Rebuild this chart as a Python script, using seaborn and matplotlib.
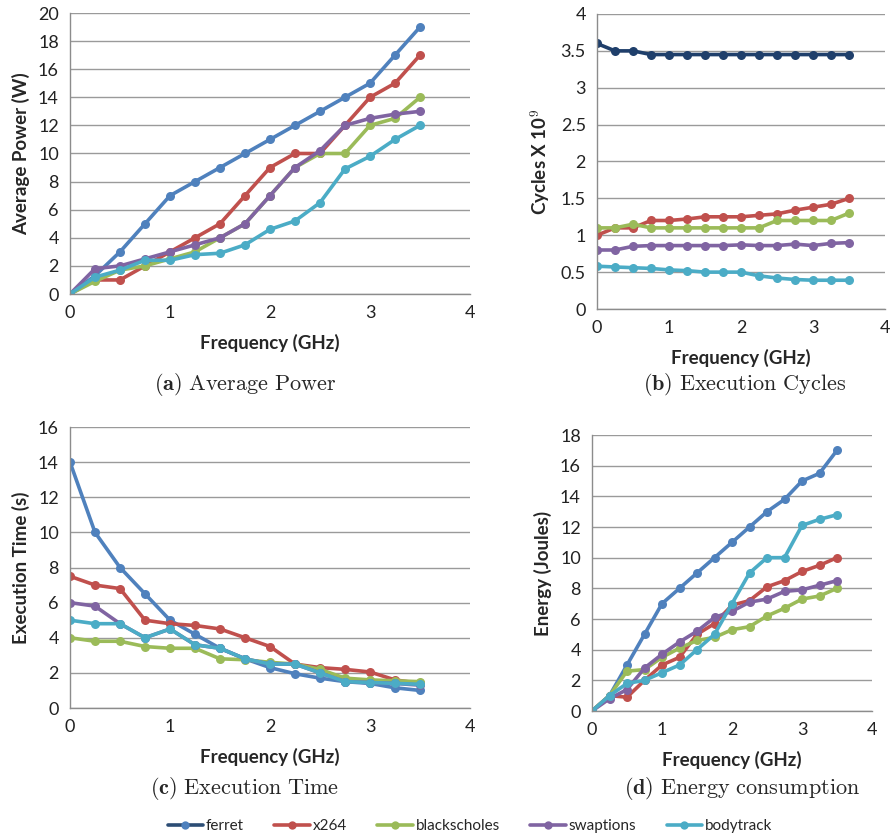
import numpy as np
import pandas as pd
import matplotlib
matplotlib.use("Agg")
import matplotlib.pyplot as plt
from matplotlib.lines import Line2D
import seaborn as sns

freq = [0, 0.25, 0.5, 0.75, 1.0, 1.25, 1.5, 1.75, 2.0, 2.25, 2.5, 2.75, 3.0, 3.25, 3.5]
benchmarks = ["ferret", "x264", "blackscholes", "swaptions", "bodytrack"]
colors = ["#4F81BD", "#C0504D", "#9BBB59", "#8064A2", "#4BACC6"]

# (a) Average power (W)
power_ferret = [0, 1.3, 3, 5, 7, 8, 9, 10, 11, 12, 13, 14, 15, 17, 19]
power_x264 = [0, 1, 1, 2, 3, 4, 5, 7, 9, 10, 10, 12, 14, 15, 17]
power_blackscholes = [0, 0.9, 1.7, 2.0, 2.5, 3.0, 4.0, 5.0, 7.0, 9.0, 10.0, 10.0, 12.0, 12.5, 14.0]
power_swaptions = [0, 1.8, 2.0, 2.5, 3.0, 3.5, 4.0, 5.0, 7.0, 9.0, 10.2, 12.0, 12.5, 12.8, 13.0]
power_bodytrack = [0, 1.2, 1.7, 2.4, 2.4, 2.8, 2.9, 3.5, 4.6, 5.2, 6.5, 8.9, 9.8, 11.0, 12.0]

# (b) Execution cycles (x10^9)
cyc_ferret = [3.6, 3.5, 3.5, 3.45, 3.45, 3.45, 3.45, 3.45, 3.45, 3.45, 3.45, 3.45, 3.45, 3.45, 3.45]
cyc_x264 = [1.0, 1.1, 1.1, 1.2, 1.2, 1.22, 1.25, 1.25, 1.25, 1.27, 1.29, 1.34, 1.38, 1.42, 1.5]
cyc_blackscholes = [1.1, 1.1, 1.15, 1.1, 1.1, 1.1, 1.1, 1.1, 1.1, 1.1, 1.2, 1.2, 1.2, 1.2, 1.3]
cyc_swaptions = [0.8, 0.8, 0.85, 0.86, 0.86, 0.86, 0.86, 0.86, 0.87, 0.86, 0.86, 0.88, 0.86, 0.89, 0.9]
cyc_bodytrack = [0.58, 0.57, 0.56, 0.55, 0.53, 0.52, 0.5, 0.5, 0.5, 0.45, 0.42, 0.4, 0.39, 0.39, 0.39]

# (c) Execution time (s)
time_ferret = [14, 10, 8, 6.5, 5, 4.2, 3.4, 2.8, 2.3, 1.95, 1.7, 1.5, 1.4, 1.15, 1.0]
time_x264 = [7.5, 7, 6.8, 5, 4.8, 4.7, 4.5, 4, 3.5, 2.5, 2.3, 2.2, 2.05, 1.6, 1.4]
time_blackscholes = [4, 3.8, 3.8, 3.5, 3.4, 3.4, 2.8, 2.75, 2.6, 2.5, 2.2, 1.7, 1.6, 1.55, 1.5]
time_swaptions = [6, 5.8, 4.8, 4, 4.5, 3.6, 3.4, 2.8, 2.5, 2.5, 2.0, 1.5, 1.45, 1.4, 1.3]
time_bodytrack = [5, 4.8, 4.8, 4, 4.5, 3.6, 3.4, 2.8, 2.5, 2.5, 2.0, 1.5, 1.45, 1.4, 1.35]

# (d) Energy (Joules)
energy_ferret = [0, 1, 3, 5, 7, 8, 9, 10, 11, 12, 13, 13.8, 15, 15.5, 17]
energy_x264 = [0, 1, 0.9, 2, 3, 3.5, 5, 5.7, 6.9, 7.2, 8.1, 8.5, 9.1, 9.5, 10]
energy_blackscholes = [0, 1, 2.6, 2.7, 3.5, 4.1, 4.6, 4.8, 5.3, 5.5, 6.2, 6.7, 7.3, 7.5, 8]
energy_swaptions = [0, 0.8, 1.4, 2.8, 3.7, 4.5, 5.2, 6.1, 6.5, 7.1, 7.3, 7.8, 7.9, 8.2, 8.5]
energy_bodytrack = [0, 1, 1.8, 2, 2.5, 3, 4, 5, 7, 9, 10, 10, 12.1, 12.5, 12.8]

sns.set_style("white")
plt.rcParams["font.family"] = ["Lato", "DejaVu Sans"]
plt.rcParams["mathtext.fontset"] = "cm"

W, H = 892, 838
fig = plt.figure(figsize=(W / 100, H / 100), dpi=100)


def make_df(series):
    rows = []
    for name, vals in zip(benchmarks, series):
        for f, v in zip(freq, vals):
            rows.append((name, f, v))
    return pd.DataFrame(rows, columns=["bench", "freq", "val"])


def add_ax(left, right, top, bottom):
    return fig.add_axes([left / W, 1 - bottom / H, (right - left) / W, (bottom - top) / H])


def panel(ax, series, ylim, ystep, ylabel, yfmt=None):
    df = make_df(series)
    sns.lineplot(data=df, x="freq", y="val", hue="bench", hue_order=benchmarks,
                 palette=colors, marker="o", markersize=6.5, markeredgewidth=0,
                 linewidth=2.6, legend=False, ax=ax)
    ax.set_xlim(0, 4)
    ax.set_ylim(0, ylim)
    ax.set_xticks([0, 1, 2, 3, 4])
    yt = np.arange(0, ylim + ystep / 2, ystep)
    ax.set_yticks(yt)
    if yfmt:
        ax.set_yticklabels([yfmt(v) for v in yt])
    ax.yaxis.grid(True, color="#9a9a9a", linewidth=1.0)
    ax.set_axisbelow(True)
    for s in ["top", "right"]:
        ax.spines[s].set_visible(False)
    for s in ["left", "bottom"]:
        ax.spines[s].set_color("#8c8c8c")
        ax.spines[s].set_linewidth(1.0)
    ax.tick_params(axis="both", length=0, labelsize=13, colors="#222222", pad=8)
    ax.set_xlabel("Frequency (GHz)", fontsize=13.5, fontweight="bold", labelpad=9)
    ax.set_ylabel(ylabel, fontsize=13.5, fontweight="bold", labelpad=6)


ax_a = add_ax(70, 470, 13, 294)
panel(ax_a, [power_ferret, power_x264, power_blackscholes, power_swaptions, power_bodytrack],
      20, 2, "Average Power (W)")

ax_b = add_ax(597, 885, 14, 309)
panel(ax_b, [cyc_ferret, cyc_x264, cyc_blackscholes, cyc_swaptions, cyc_bodytrack],
      4, 0.5, r"Cycles X 10$^{\mathbf{9}}$", yfmt=lambda v: ("%g" % v))
ax_b.lines[0].set_color("#1F3F6B")

ax_c = add_ax(70, 470, 427, 708)
panel(ax_c, [time_ferret, time_x264, time_blackscholes, time_swaptions, time_bodytrack],
      16, 2, "Execution Time (s)")

ax_d = add_ax(592, 872, 435, 711)
panel(ax_d, [energy_ferret, energy_x264, energy_blackscholes, energy_swaptions, energy_bodytrack],
      18, 2, "Energy (Joules)")

cap_kw = dict(ha="center", va="center", fontsize=16)
fig.text(245 / W, 1 - 385 / H, r"$\mathbf{(a)}\ \mathrm{Average\ Power}$", **cap_kw)
fig.text(745 / W, 1 - 385 / H, r"$\mathbf{(b)}\ \mathrm{Execution\ Cycles}$", **cap_kw)
fig.text(245 / W, 1 - 788 / H, r"$\mathbf{(c)}\ \mathrm{Execution\ Time}$", **cap_kw)
fig.text(742 / W, 1 - 788 / H, r"$\mathbf{(d)}\ \mathrm{Energy\ consumption}$", **cap_kw)

handles = [Line2D([0], [0], color=c, marker="o", markersize=6, markeredgewidth=0, linewidth=2.6)
           for c in colors]
handles[0].set_color("#2C4D75")
handles[0].set_markerfacecolor("#4F81BD")
fig.legend(handles, benchmarks, loc="center", bbox_to_anchor=(470 / W, 1 - 826 / H),
           ncol=5, frameon=False, fontsize=11, handlelength=2.3, columnspacing=2.0,
           handletextpad=0.2)

fig.savefig("out.png", dpi=100)
